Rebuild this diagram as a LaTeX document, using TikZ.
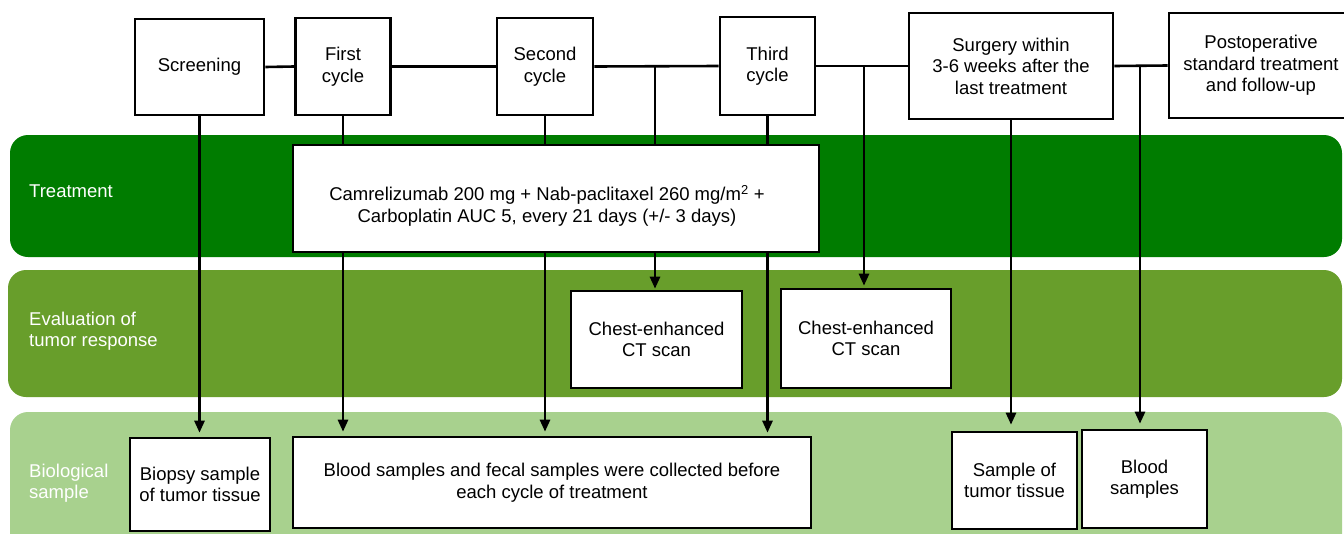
\documentclass[tikz,border=0pt]{standalone}
\usepackage{fontspec}
\setmainfont{Liberation Sans}
\usetikzlibrary{arrows.meta,calc}
\definecolor{tgreen}{RGB}{0,124,0}
\definecolor{egreen}{RGB}{104,158,43}
\definecolor{bgreen}{RGB}{168,209,142}
\begin{document}
\begin{tikzpicture}[x=1pt,y=-1pt,
  box/.style={draw=black,line width=2.6pt,fill=white,inner sep=0pt,align=center,
    font=\fontsize{18.5}{21.5}\selectfont},
  band/.style={rounded corners=18pt},
  lbl/.style={text=white,align=left,anchor=west,inner sep=0pt,font=\fontsize{18.5}{21.5}\selectfont},
  conn/.style={line width=2.6pt},
  arr/.style={line width=2.6pt,-{Triangle[length=12pt,width=10pt]}}]
\useasboundingbox (0,0) rectangle (1344,533);
\fill[white] (0,0) rectangle (1344,533);
% bands
\fill[tgreen,band] (10,135) rectangle (1342,257);
\fill[egreen,band] (8,270) rectangle (1342,397);
\fill[bgreen,band] (10,412) rectangle (1342,560);
\node[lbl] (lt) at (29,191) {Treatment};
\node[lbl] (le) at (29,331) {Evaluation of\\tumor response};
\node[lbl] (lb) at (29,483) {Biological\\sample};
% top boxes
\node[box,minimum width=129pt,minimum height=96pt] (scr) at (199.5,67) {Screening};
\node[box,minimum width=95pt,minimum height=97pt] (c1) at (343,66.5) {First\\cycle};
\node[box,minimum width=96pt,minimum height=97pt] (c2) at (545,66.5) {Second\\cycle};
\node[box,minimum width=95pt,minimum height=98pt] (c3) at (767.5,66) {Third\\cycle};
\node[box,minimum width=204pt,minimum height=106pt] (surg) at (1011,66) {Surgery within\\3-6 weeks after the\\last treatment};
\node[box,minimum width=184pt,minimum height=105pt] (post) at (1261,65.5) {Postoperative\\standard treatment\\and follow-up};
% middle boxes
\node[box,minimum width=526pt,minimum height=107pt,text depth=0pt] (tr) at (556,198.5) {\rule{0pt}{26pt}Camrelizumab 200 mg + Nab-paclitaxel 260 mg/m\textsuperscript{2} +\hspace*{18pt}\\Carboplatin AUC 5, every 21 days (+/- 3 days)\hspace*{18pt}};
\node[box,minimum width=171pt,minimum height=97pt] (ct1) at (656.5,339.5) {Chest-enhanced\\CT scan};
\node[box,minimum width=170pt,minimum height=99pt] (ct2) at (866,338.5) {Chest-enhanced\\CT scan};
% bottom boxes
\node[box,minimum width=140pt,minimum height=93pt] (bio) at (200,484.5) {Biopsy sample\\of tumor tissue};
\node[box,minimum width=518pt,minimum height=91pt] (blood) at (552,482.5) {Blood samples and fecal samples were collected before\\each cycle of treatment};
\node[box,minimum width=125pt,minimum height=97pt] (stt) at (1014.5,480.5) {Sample of\\tumor tissue};
\node[box,minimum width=125pt,minimum height=98pt] (bs) at (1144.5,479) {Blood\\samples};
% junctions
\coordinate (j1) at (655,66.5);
\coordinate (j2) at (864,66);
\coordinate (j3) at (1140,65.5);
% timeline
\draw[conn] (scr.east) -- (c1.west);
\draw[conn] (c1.east) -- (c2.west);
\draw[conn] (c2.east) -- (c3.west);
\draw[conn] (c3.east) -- (surg.west);
\draw[conn] (surg.east) -- (post.west);
% verticals
\draw[arr,shorten >=4pt] (scr.south) -- (scr.south |- bio.north);
\draw[conn] (c1.south) -- (c1.south |- tr.north);
\draw[arr,shorten >=4pt] (c1.south |- tr.south) -- (c1.south |- blood.north);
\draw[conn] (c2.south) -- (c2.south |- tr.north);
\draw[arr,shorten >=4pt] (c2.south |- tr.south) -- (c2.south |- blood.north);
\draw[conn] (c3.south) -- (c3.south |- tr.north);
\draw[arr,shorten >=3pt] (c3.south |- tr.south) -- (c3.south |- blood.north);
\draw[conn] (j1) -- (j1 |- tr.north);
\draw[arr,shorten >=1pt] (j1 |- tr.south) -- (j1 |- ct1.north);
\draw[arr,shorten >=2pt] (j2) -- (j2 |- ct2.north);
\draw[arr,shorten >=6pt] (surg.south) -- (surg.south |- stt.north);
\draw[arr,shorten >=5pt] (j3) -- (j3 |- bs.north);
\end{tikzpicture}
\end{document}
